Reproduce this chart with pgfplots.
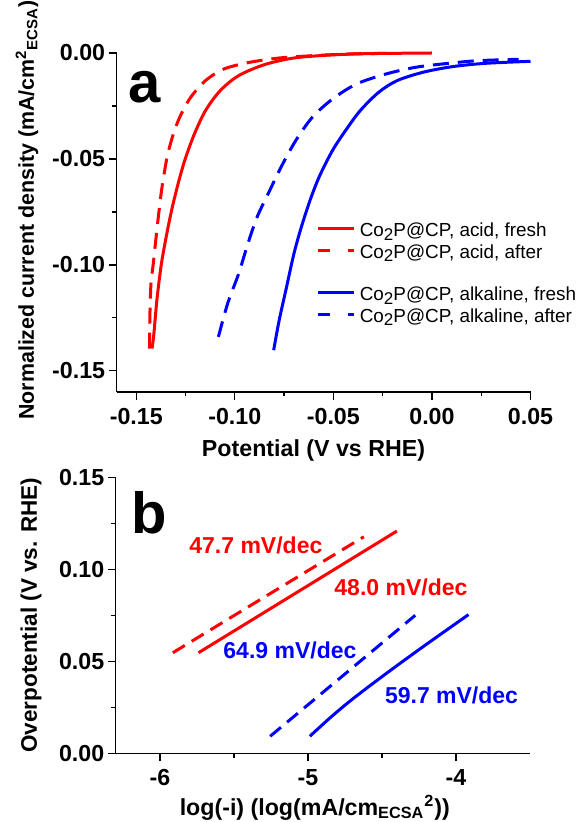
\documentclass[border=0pt]{standalone}
\usepackage{fontspec}
\setmainfont{Liberation Sans}
\usepackage{pgfplots}
\pgfplotsset{compat=1.18}
\definecolor{myred}{RGB}{255,0,0}
\definecolor{myblue}{RGB}{0,0,255}
\newcommand{\lowtwo}{\raisebox{-0.35ex}{\fontsize{8.5}{9}\selectfont 2}}
\pgfplotsset{
  origin/.style={
    scale only axis,
    axis x line*=bottom, axis y line*=left,
    axis line style={-, line width=0.65pt, black},
    tick align=outside,
    major tick length=4pt, minor tick length=2.2pt,
    every tick/.style={black, line width=0.65pt},
    minor tick num=1,
    tick label style={font=\fontsize{11.6}{13}\selectfont\bfseries, inner sep=0pt},
    xticklabel style={yshift=-4pt},
    yticklabel style={xshift=-1.5pt},
    label style={font=\fontsize{11.6}{13}\selectfont\bfseries},
    clip=false,
  },
  mydash/.style={dash pattern=on 8pt off 4.5pt},
}
\begin{document}
\begin{tikzpicture}
\begin{axis}[origin,
  at={(58.25pt,-196pt)}, anchor=south west,
  width=207pt, height=169.5pt,
  xmin=-0.16, xmax=0.05, ymin=-0.16, ymax=0,
  xtick={-0.15,-0.1,-0.05,0,0.05},
  xticklabels={-0.15,-0.10,-0.05,0.00,0.05},
  ytick={-0.15,-0.1,-0.05,0},
  yticklabels={-0.15,-0.10,-0.05,0.00},
  xlabel={Potential (V vs RHE)},
  ylabel={Normalized current density (mA/cm\textsuperscript{2}\textsubscript{ECSA})},
  xlabel style={at={([xshift=-5pt]axis description cs:0.5,0)}, anchor=base, yshift=-32pt},
  ylabel style={at={([xshift=-41.25pt,yshift=6.25pt]axis description cs:0,0.5)}, anchor=base, font=\fontsize{10.7}{12}\selectfont\bfseries},
  legend style={at={(axis cs:-0.0584,-0.0779)}, anchor=north west, draw=none, fill=none,
    inner sep=0pt, outer sep=0pt, row sep=0pt, column sep=2pt,
    font=\fontsize{9.45}{11}\selectfont, nodes={inner sep=0pt}},
  legend cell align=left,
  legend image code/.code={\draw[#1] (0pt,0pt) -- (18pt,0pt);},
]
% acid fresh
\addplot[myred, line width=1.5pt, smooth, forget plot] coordinates {
(-0.14196,-0.13949) (-0.14103,-0.13242) (-0.13953,-0.11671) (-0.13729,-0.09991)
(-0.13449,-0.0853) (-0.13168,-0.07273) (-0.12832,-0.06016) (-0.12514,-0.04995)
(-0.12047,-0.03817) (-0.11486,-0.02718) (-0.10738,-0.01775) (-0.09804,-0.01068)
(-0.08495,-0.0055) (-0.07,-0.00236) (-0.05131,-0.00094) (-0.03262,-0.00031) (0.0,0.0)};
% acid after
\addplot[myred, line width=1.5pt, mydash, smooth, forget plot] coordinates {
(-0.14327,-0.13949) (-0.14308,-0.12457) (-0.14252,-0.10886) (-0.1414,-0.09991)
(-0.14009,-0.08844) (-0.1386,-0.07587) (-0.13692,-0.0633) (-0.13449,-0.04995)
(-0.13168,-0.03974) (-0.12794,-0.03032) (-0.12234,-0.02089) (-0.11486,-0.01304)
(-0.10551,-0.00754) (-0.09243,-0.0044) (-0.07748,-0.00236) (-0.06065,-0.00126)
(-0.04196,-0.00047) (-0.02327,-0.00016)};
% alkaline fresh
\addplot[myblue, line width=1.5pt, smooth, forget plot] coordinates {
(-0.08028,-0.14028) (-0.07748,-0.12614) (-0.07374,-0.11043) (-0.07,-0.09472)
(-0.06626,-0.0822) (-0.06159,-0.0689) (-0.05692,-0.0579) (-0.05037,-0.04590)
(-0.04383,-0.0366) (-0.03636,-0.02718) (-0.02701,-0.01854) (-0.01766,-0.01304)
(-0.00458,-0.00911) (0.01037,-0.00644) (0.02720,-0.00487) (0.05,-0.00393)};
% alkaline after
\addplot[myblue, line width=1.5pt, mydash, smooth, forget plot] coordinates {
(-0.10832,-0.134) (-0.10364,-0.11829) (-0.09804,-0.10415) (-0.09336,-0.09001)
(-0.08869,-0.07745) (-0.08308,-0.06645) (-0.07654,-0.05388) (-0.06907,-0.04131)
(-0.06065,-0.03032) (-0.05037,-0.02168) (-0.03822,-0.01461) (-0.02327,-0.0099)
(-0.00832,-0.00675) (0.00851,-0.00487) (0.02346,-0.00361) (0.04402,-0.00298)};
\addlegendimage{myred, line width=1.5pt}
\addlegendentry{\rule[-4.6pt]{0pt}{13.9pt}Co\lowtwo P@CP, acid, fresh}
\addlegendimage{myred, line width=1.5pt, dash pattern=on 6pt off 9pt}
\addlegendentry{\rule[-4.6pt]{0pt}{13.9pt}Co\lowtwo P@CP, acid, after}
\addlegendimage{empty legend}
\addlegendentry{\rule{0pt}{8.9pt}}
\addlegendimage{myblue, line width=1.5pt}
\addlegendentry{\rule[-4.6pt]{0pt}{13.9pt}Co\lowtwo P@CP, alkaline, fresh}
\addlegendimage{myblue, line width=1.5pt, dash pattern=on 6pt off 9pt}
\addlegendentry{\rule[-4.6pt]{0pt}{13.9pt}Co\lowtwo P@CP, alkaline, after}
\node[anchor=base west, inner sep=0pt, font=\fontsize{29}{30}\selectfont\bfseries] at (axis cs:-0.1541,-0.02325) {a};
\end{axis}

\begin{axis}[origin,
  at={(57.8pt,-376.65pt)}, anchor=south west,
  width=207.2pt, height=138pt,
  xmin=-6.3, xmax=-3.5, ymin=0, ymax=0.15,
  xtick={-6,-5,-4},
  xticklabels={-6,-5,-4},
  ytick={0,0.05,0.1,0.15},
  yticklabels={0.00,0.05,0.10,0.15},
  xlabel={log(-i) (log(mA/cm\textsubscript{ECSA}\textsuperscript{2}))},
  ylabel={Overpotential (V vs. RHE)},
  xlabel style={at={([xshift=-4pt]axis description cs:0.5,0)}, anchor=base, yshift=-31pt},
  ylabel style={at={([xshift=-39.3pt]axis description cs:0,0.5)}, anchor=base, font=\fontsize{11.25}{13}\selectfont\bfseries},
]
\addplot[myred, line width=1.5pt] coordinates {(-5.7395,0.05467) (-5.07,0.0877) (-4.3995,0.12078)};
\addplot[myred, line width=1.5pt, dash pattern=on 7pt off 4pt] coordinates {(-5.9132,0.05467) (-5.268,0.0862) (-4.6228,0.11769)};
\addplot[myblue, line width=1.5pt, dash pattern=on 7pt off 4pt] coordinates {(-5.2556,0.00926) (-4.7655,0.0421) (-4.2754,0.07501)};
\addplot[myblue, line width=1.5pt, smooth] coordinates {(-4.9876,0.00926) (-4.8462,0.01961) (-4.6973,0.0296) (-4.4739,0.04323) (-4.2258,0.05775) (-3.9156,0.07537)};
\node[anchor=base, inner sep=0pt, text=myred, font=\fontsize{11.5}{13}\selectfont\bfseries] at (axis cs:-5.352,0.1086) {47.7 mV/dec};
\node[anchor=base, inner sep=0pt, text=myred, font=\fontsize{11.5}{13}\selectfont\bfseries] at (axis cs:-4.372,0.0859) {48.0 mV/dec};
\node[anchor=base, inner sep=0pt, text=myblue, font=\fontsize{11.5}{13}\selectfont\bfseries] at (axis cs:-5.122,0.0514) {64.9 mV/dec};
\node[anchor=base, inner sep=0pt, text=myblue, font=\fontsize{11.5}{13}\selectfont\bfseries] at (axis cs:-4.03,0.0269) {59.7 mV/dec};
\node[anchor=base west, inner sep=0pt, font=\fontsize{29}{30}\selectfont\bfseries] at (axis cs:-6.195,0.1195) {b};
\end{axis}
\pgfresetboundingbox
\path[use as bounding box] (0pt,0pt) rectangle (288.5pt,-411pt);
\end{tikzpicture}
\end{document}
